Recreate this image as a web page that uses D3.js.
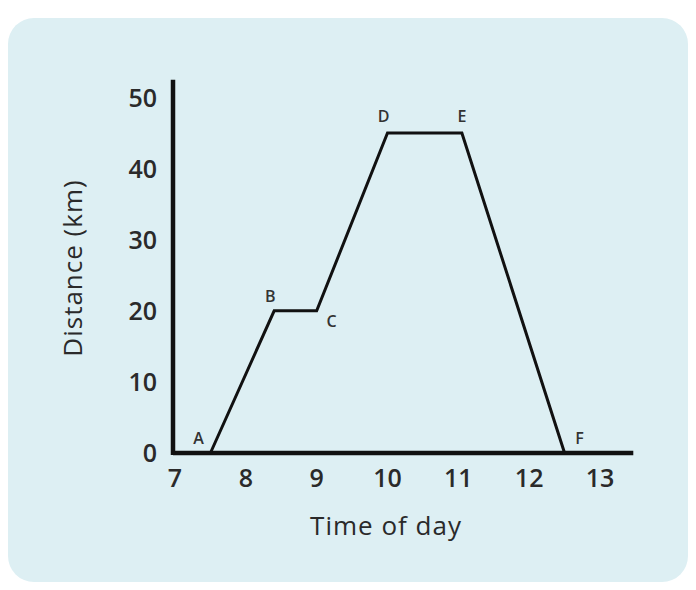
<!DOCTYPE html>
<html>
<head>
<meta charset="utf-8">
<script src="https://cdn.jsdelivr.net/npm/d3@7"></script>
<style>
  body { margin: 0; background: #ffffff; }
</style>
</head>
<body>
<div id="chart"></div>
<script>
// distance-time graph

const WIDTH = 696;
const HEIGHT = 590;
const FONT = "'Open Sans', sans-serif";

// data
const times = [7.5, 8.4, 9, 10, 11.05, 12.5];
const distances = [0, 20, 20, 45, 45, 0];
const pointNames = ['A', 'B', 'C', 'D', 'E', 'F'];
const xTicks = [7, 8, 9, 10, 11, 12, 13];
const yTicks = [0, 10, 20, 30, 40, 50];

const points = times.map((t, i) => ({ t: t, d: distances[i], name: pointNames[i] }));

const x = d3.scaleLinear().domain([7, 13]).range([175, 600]);
const y = d3.scaleLinear().domain([0, 50]).range([453, 97.5]);

const svg = d3.select('#chart')
  .append('svg')
    .attr('width', WIDTH)
    .attr('height', HEIGHT);

// panel
svg.append('rect')
   .attr('x', 8)
   .attr('y', 18)
   .attr('width', 680)
   .attr('height', 564)
   .attr('rx', 26)
   .attr('fill', '#ddeff3');

// axes lines
svg.append('line')
   .attr('x1', x(7) - 2).attr('x2', x(13.47))
   .attr('y1', y(0)).attr('y2', y(0))
   .attr('stroke', '#111').attr('stroke-width', 4.5);

svg.append('line')
   .attr('x1', x(7) - 2).attr('x2', x(7) - 2)
   .attr('y1', y(0) + 2).attr('y2', y(52.5))
   .attr('stroke', '#111').attr('stroke-width', 4.5);

// tick labels
svg.selectAll('.xtick')
   .data(xTicks)
   .enter()
   .append('text')
   .attr('class', 'xtick')
   .attr('x', d => x(d))
   .attr('y', y(0) + 34)
   .attr('text-anchor', 'middle')
   .style('font-family', FONT)
   .style('font-size', '25px')
   .style('font-weight', '600')
   .style('fill', '#2a2a2a')
   .text(d => d);

svg.selectAll('.ytick')
   .data(yTicks)
   .enter()
   .append('text')
   .attr('class', 'ytick')
   .attr('x', 157)
   .attr('y', d => y(d) + 9)
   .attr('text-anchor', 'end')
   .style('font-family', FONT)
   .style('font-size', '25px')
   .style('font-weight', '600')
   .style('fill', '#2a2a2a')
   .text(d => d);

// axis titles
svg.append('text')
   .attr('transform', 'translate(82, 268) rotate(-90)')
   .attr('text-anchor', 'middle')
   .style('font-family', FONT)
   .style('font-size', '26px')
   .style('font-weight', '500')
   .style('letter-spacing', '1px')
   .style('fill', '#2a2a2a')
   .text('Distance (km)');

svg.append('text')
   .attr('x', 386)
   .attr('y', 535)
   .attr('text-anchor', 'middle')
   .style('font-family', FONT)
   .style('font-size', '26px')
   .style('font-weight', '500')
   .style('letter-spacing', '1px')
   .style('fill', '#2a2a2a')
   .text('Time of day');

// the journey
const line = d3.line()
  .x(p => x(p.t))
  .y(p => y(p.d));

svg.append('path')
   .datum(points)
   .attr('d', line)
   .attr('fill', 'none')
   .attr('stroke', '#111')
   .attr('stroke-width', 3)
   .attr('stroke-linejoin', 'miter');

// point letters, offset per point
const labelOffset = {
  A: [-12, -9], B: [-4, -9], C: [15, 16],
  D: [-4, -11], E: [0, -11], F: [15, -9]
};

svg.selectAll('.plabel')
   .data(points)
   .enter()
   .append('text')
   .attr('class', 'plabel')
   .attr('x', p => x(p.t) + labelOffset[p.name][0])
   .attr('y', p => y(p.d) + labelOffset[p.name][1])
   .attr('text-anchor', 'middle')
   .style('font-family', FONT)
   .style('font-size', '16px')
   .style('font-weight', '600')
   .style('fill', '#333')
   .text(p => p.name);
</script>
</body>
</html>
